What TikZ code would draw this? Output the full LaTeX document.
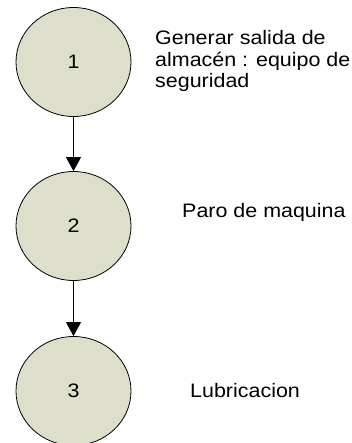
\documentclass[tikz,border=0pt]{standalone}
\usepackage{fontspec}
\setmainfont[FakeStretch=1.1]{Liberation Sans}
\usetikzlibrary{shapes.geometric,arrows.meta}
\definecolor{stepfill}{RGB}{221,223,203}
\begin{document}
\begin{tikzpicture}[x=1pt,y=-1pt,
  stepnode/.style={ellipse,draw=black,line width=0.8pt,fill=stepfill,
    minimum width=115pt,minimum height=109pt,inner sep=0pt,
    font=\fontsize{19.5}{21.5}\selectfont},
  steplabel/.style={inner sep=0pt,align=left,
    font=\fontsize{19.5}{21.5}\selectfont},
  flow/.style={line width=0.8pt,-{Triangle[width=15pt,length=14pt]}}]
\useasboundingbox (0,0) rectangle (352,443);
\node[stepnode] (c1) at (73.5,62) {1};
\node[stepnode] (c2) at (73.5,226) {2};
\node[stepnode] (c3) at (73.5,391) {3};
\node[steplabel,anchor=base west] (t1) at (155,88) {Generar salida de\\almacén : equipo de\\seguridad};
\node[steplabel,anchor=base west] (t2) at (182,218) {Paro de maquina};
\node[steplabel,anchor=base west] (t3) at (190,397) {Lubricacion};
\draw[flow] (c1) -- (c2);
\draw[flow] (c2) -- (c3);
\end{tikzpicture}
\end{document}
